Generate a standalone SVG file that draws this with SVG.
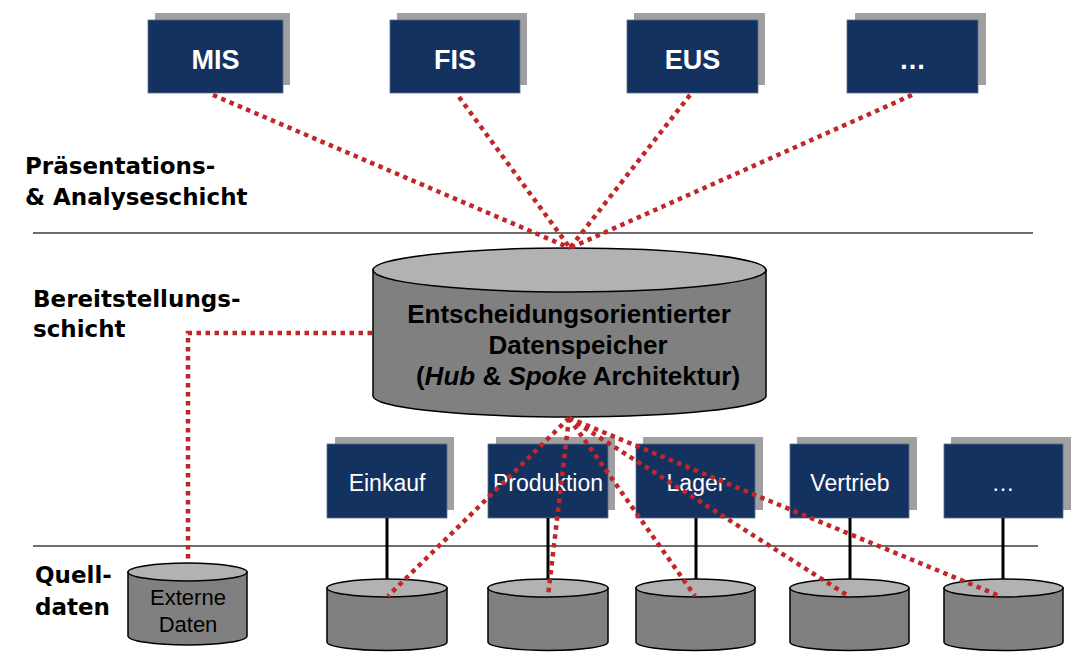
<svg xmlns="http://www.w3.org/2000/svg" width="1084" height="656" viewBox="0 0 1084 656">
<defs>
<style>
.shadow{fill:#A0A0A0}
.box{fill:#14325F;stroke:#5A7090;stroke-width:0.8}
.btxt{font-family:"Liberation Sans",Arial,sans-serif;font-weight:bold;font-size:27px;fill:#fff;text-anchor:middle}
.stxt{font-family:"Liberation Sans",Arial,sans-serif;font-size:23px;fill:#fff;text-anchor:middle}
.body{fill:#808080;stroke:#000;stroke-width:1.5}
.top{fill:#B2B2B2;stroke:#000;stroke-width:1.5}
.layer{font-family:"DejaVu Sans",Verdana,sans-serif;font-weight:bold;font-size:23px;fill:#000}
.sep{stroke:#6E6E6E;stroke-width:2}
.red{stroke:#C1262B;stroke-width:4.5;stroke-dasharray:4.5 4.5;fill:none}
.blk{stroke:#000;stroke-width:3}
.htxt{font-family:"Liberation Sans",Arial,sans-serif;font-weight:bold;font-size:26px;fill:#000;text-anchor:middle}
.etxt{font-family:"Liberation Sans",Arial,sans-serif;font-size:22px;fill:#000;text-anchor:middle}
</style>
</defs>
<rect width="1084" height="656" fill="#fff"/>
<g id="layers">
<line class="sep" x1="33" y1="233" x2="1033" y2="233"/>
<line class="sep" x1="33" y1="546" x2="1038" y2="546"/>
<text class="layer" x="25" y="174">Präsentations-</text>
<text class="layer" x="25" y="205">&amp; Analyseschicht</text>
<text class="layer" x="33" y="307">Bereitstellungs-</text>
<text class="layer" x="33" y="337">schicht</text>
<text class="layer" x="35" y="583">Quell-</text>
<text class="layer" x="35" y="615">daten</text>
</g>
<g id="top-mis"><rect class="shadow" x="155" y="13" width="135" height="72"/><rect class="box" x="148" y="20" width="135" height="73"/><text class="btxt" x="215.5" y="69">MIS</text></g>
<g id="top-fis"><rect class="shadow" x="397" y="13" width="130" height="72"/><rect class="box" x="390" y="20" width="130" height="73"/><text class="btxt" x="455" y="69">FIS</text></g>
<g id="top-eus"><rect class="shadow" x="634" y="13" width="131" height="72"/><rect class="box" x="627" y="20" width="131" height="73"/><text class="btxt" x="692.5" y="69">EUS</text></g>
<g id="top-more"><rect class="shadow" x="855" y="13" width="131" height="72"/><rect class="box" x="847" y="20" width="131" height="73"/><text class="btxt" x="912.5" y="69">…</text></g>
<g id="hub">
<path class="body" d="M373,270 L373,396 A196.5,21 0 0 0 766,396 L766,270 Z"/>
<ellipse class="top" cx="569.5" cy="270" rx="196.5" ry="22"/>
<text class="htxt" x="569" y="323">Entscheidungsorientierter</text>
<text class="htxt" x="578" y="354">Datenspeicher</text>
<text class="htxt" x="578" y="385">(<tspan font-style="italic">Hub</tspan> &amp; <tspan font-style="italic">Spoke</tspan> Architektur)</text>
</g>
<g id="src-einkauf"><rect class="shadow" x="335" y="437" width="119" height="73"/><rect class="box" x="327" y="444" width="120" height="74"/><text class="stxt" x="387" y="491">Einkauf</text></g>
<g id="src-produktion"><rect class="shadow" x="496" y="437" width="119" height="73"/><rect class="box" x="488" y="444" width="120" height="74"/><text class="stxt" x="548" y="491">Produktion</text></g>
<g id="src-lager"><rect class="shadow" x="643" y="437" width="120" height="73"/><rect class="box" x="636" y="444" width="119" height="74"/><text class="stxt" x="696" y="491">Lager</text></g>
<g id="src-vertrieb"><rect class="shadow" x="797" y="437" width="120" height="73"/><rect class="box" x="790" y="444" width="119" height="74"/><text class="stxt" x="850" y="491">Vertrieb</text></g>
<g id="src-more"><rect class="shadow" x="951" y="437" width="120" height="73"/><rect class="box" x="944" y="444" width="119" height="74"/><text class="stxt" x="1003" y="491">…</text></g>
<g id="db-einkauf"><path class="body" d="M327,588 L327,642 A60,8.5 0 0 0 447,642 L447,588 Z"/><ellipse class="top" cx="387" cy="588" rx="60" ry="9"/></g>
<g id="db-produktion"><path class="body" d="M488,588 L488,642 A60,8.5 0 0 0 608,642 L608,588 Z"/><ellipse class="top" cx="548" cy="588" rx="60" ry="9"/></g>
<g id="db-lager"><path class="body" d="M636,588 L636,642 A59.5,8.5 0 0 0 755,642 L755,588 Z"/><ellipse class="top" cx="695.5" cy="588" rx="59.5" ry="9"/></g>
<g id="db-vertrieb"><path class="body" d="M790,588 L790,642 A59.5,8.5 0 0 0 909,642 L909,588 Z"/><ellipse class="top" cx="849.5" cy="588" rx="59.5" ry="9"/></g>
<g id="db-more"><path class="body" d="M944,588 L944,642 A59.5,8.5 0 0 0 1063,642 L1063,588 Z"/><ellipse class="top" cx="1003.5" cy="588" rx="59.5" ry="9"/></g>
<g id="db-extern"><path class="body" d="M128,572 L128,636 A59.5,9 0 0 0 247,636 L247,572 Z"/><ellipse class="top" cx="187.5" cy="572" rx="59.5" ry="9"/><text class="etxt" x="188" y="605">Externe</text><text class="etxt" x="188" y="632">Daten</text></g>
<g id="connectors">
<line class="blk" x1="387" y1="518" x2="387" y2="579"/>
<line class="blk" x1="548" y1="518" x2="548" y2="579"/>
<line class="blk" x1="696" y1="518" x2="696" y2="579"/>
<line class="blk" x1="850" y1="518" x2="850" y2="579"/>
<line class="blk" x1="1003" y1="518" x2="1003" y2="579"/>
<line class="red" x1="213" y1="95" x2="570" y2="248"/>
<line class="red" x1="459" y1="97" x2="570" y2="248"/>
<line class="red" x1="690" y1="95" x2="570" y2="248"/>
<line class="red" x1="912" y1="95" x2="570" y2="248"/>
<line class="red" x1="569" y1="418" x2="388" y2="596"/>
<line class="red" x1="569" y1="418" x2="548" y2="596"/>
<line class="red" x1="569" y1="418" x2="695" y2="596"/>
<line class="red" x1="569" y1="418" x2="850" y2="597"/>
<line class="red" x1="569" y1="418" x2="1002" y2="597"/>
<polyline class="red" points="372,333 188,333 188,562"/>
</g>
</svg>
